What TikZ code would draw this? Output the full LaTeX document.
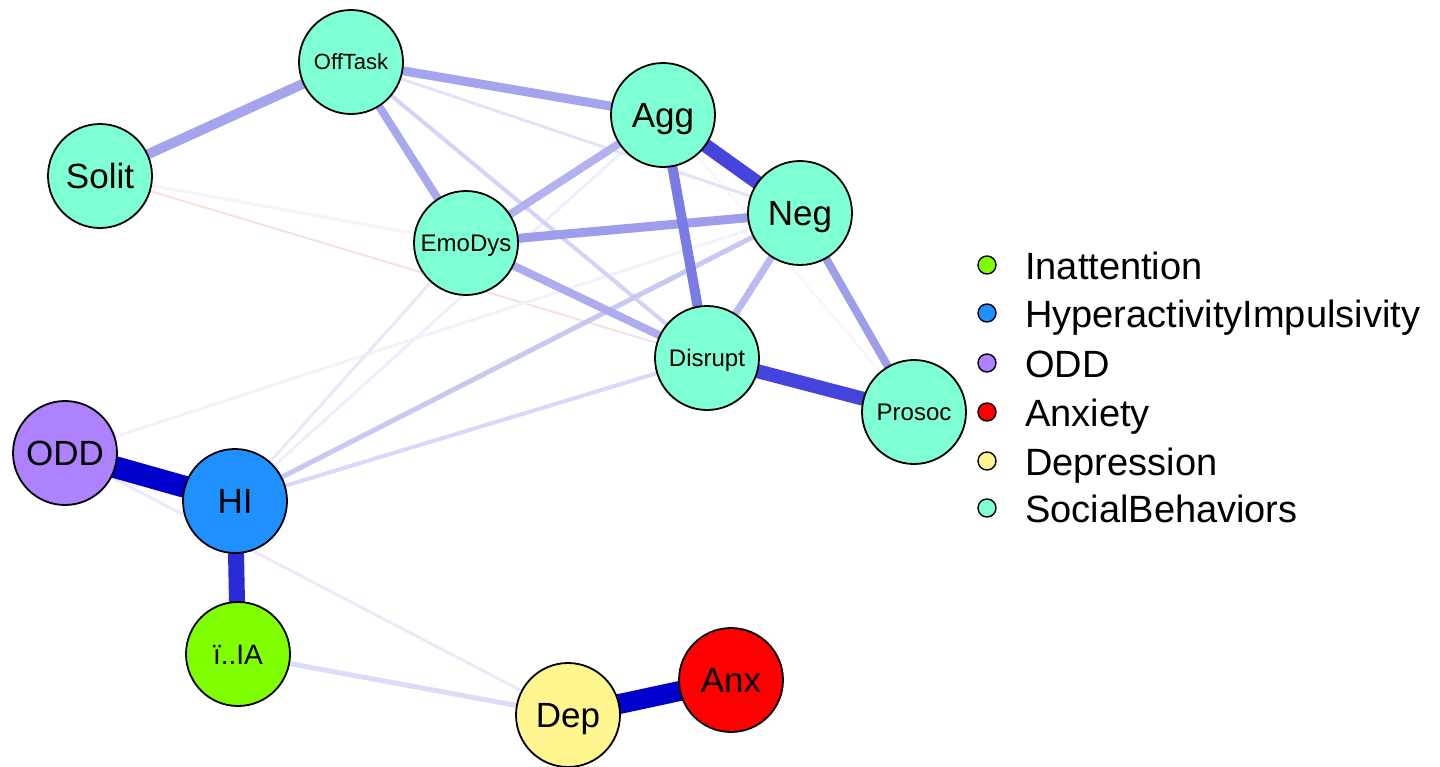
\documentclass[tikz,border=0pt]{standalone}
\usepackage{fontspec}
\setmainfont{Liberation Sans}
\usetikzlibrary{backgrounds}

\definecolor{social}{HTML}{7FFFD4}
\definecolor{oddc}{HTML}{AE82FF}
\definecolor{hic}{HTML}{1E90FF}
\definecolor{iac}{HTML}{7FFF00}
\definecolor{depc}{HTML}{FFF68F}
\definecolor{anxc}{HTML}{FF0000}

\tikzset{
  var/.style={circle, draw=black, line width=1.8pt, minimum size=104pt, inner sep=0pt, text depth=0pt},
  lblbig/.style={font=\fontsize{35}{35}\selectfont, text height=25pt},
  lblmid/.style={font=\fontsize{28}{28}\selectfont, text height=20pt},
  lblsmall/.style={font=\fontsize{24}{24}\selectfont, text height=17pt},
  lbltiny/.style={font=\fontsize{22}{22}\selectfont, text height=15.8pt},
  edge/.style={line cap=butt},
  key/.style={circle, draw=black, line width=1.4pt, minimum size=18pt, inner sep=0pt},
  keytext/.style={anchor=base west, font=\fontsize{38}{38}\selectfont, inner sep=0pt},
}

\begin{document}
\begin{tikzpicture}[x=1pt, y=-1pt]
\useasboundingbox (0,0) rectangle (1440,766);

% variables
\node[var, fill=social, lbltiny]  (OffTask) at (351,62)  {OffTask};
\node[var, fill=social, lblbig]   (Solit)   at (100,176) {Solit};
\node[var, fill=social, lblbig]   (Agg)     at (663,115) {Agg};
\node[var, fill=social, lblbig]   (Neg)     at (800,213) {Neg};
\node[var, fill=social, lblsmall] (EmoDys)  at (466,243) {EmoDys};
\node[var, fill=social, lblsmall] (Disrupt) at (707,358) {Disrupt};
\node[var, fill=social, lblsmall] (Prosoc)  at (914,412) {Prosoc};
\node[var, fill=oddc, lblbig]     (ODD)     at (65,453)  {ODD};
\node[var, fill=hic, lblbig]      (HI)      at (235,501) {HI};
\node[var, fill=iac, lblmid]      (IA)      at (238,654) {ï..IA};
\node[var, fill=depc, lblbig]     (Dep)     at (568,715) {Dep};
\node[var, fill=anxc, lblbig]     (Anx)     at (731,680) {Anx};

% partial correlations, weakest first
\begin{pgfonlayer}{background}
\draw[edge, line width=2pt, color={rgb,255:red,247;green,224;blue,224}] (Solit.center) -- (Disrupt.center);
\draw[edge, line width=2pt, color={rgb,255:red,245;green,245;blue,253}] (Agg.center) -- (Prosoc.center);
\draw[edge, line width=3pt, color={rgb,255:red,243;green,243;blue,253}] (Solit.center) -- (EmoDys.center);
\draw[edge, line width=3pt, color={rgb,255:red,242;green,242;blue,253}] (ODD.center) -- (Neg.center);
\draw[edge, line width=3pt, color={rgb,255:red,234;green,234;blue,251}] (ODD.center) -- (Dep.center);
\draw[edge, line width=3pt, color={rgb,255:red,238;green,238;blue,252}] (HI.center) -- (Agg.center);
\draw[edge, line width=3pt, color={rgb,255:red,232;green,232;blue,250}] (HI.center) -- (EmoDys.center);
\draw[edge, line width=3pt, color={rgb,255:red,226;green,226;blue,249}] (OffTask.center) -- (Neg.center);
\draw[edge, line width=4pt, color={rgb,255:red,216;green,216;blue,248}] (HI.center) -- (Disrupt.center);
\draw[edge, line width=5pt, color={rgb,255:red,220;green,220;blue,248}] (IA.center) -- (Dep.center);
\draw[edge, line width=4pt, color={rgb,255:red,211;green,211;blue,247}] (OffTask.center) -- (Disrupt.center);
\draw[edge, line width=5pt, color={rgb,255:red,200;green,200;blue,244}] (HI.center) -- (Neg.center);
\draw[edge, line width=7pt, color={rgb,255:red,186;green,186;blue,242}] (Neg.center) -- (Disrupt.center);
\draw[edge, line width=8pt, color={rgb,255:red,178;green,178;blue,240}] (EmoDys.center) -- (Agg.center);
\draw[edge, line width=8pt, color={rgb,255:red,172;green,172;blue,238}] (EmoDys.center) -- (Disrupt.center);
\draw[edge, line width=8pt, color={rgb,255:red,168;green,168;blue,238}] (OffTask.center) -- (EmoDys.center);
\draw[edge, line width=9pt, color={rgb,255:red,165;green,165;blue,238}] (OffTask.center) -- (Agg.center);
\draw[edge, line width=10pt, color={rgb,255:red,165;green,165;blue,238}] (OffTask.center) -- (Solit.center);
\draw[edge, line width=8pt, color={rgb,255:red,158;green,158;blue,235}] (Neg.center) -- (Prosoc.center);
\draw[edge, line width=9pt, color={rgb,255:red,157;green,157;blue,235}] (EmoDys.center) -- (Neg.center);
\draw[edge, line width=10pt, color={rgb,255:red,123;green,123;blue,229}] (Agg.center) -- (Disrupt.center);
\draw[edge, line width=14pt, color={rgb,255:red,69;green,69;blue,221}] (Agg.center) -- (Neg.center);
\draw[edge, line width=14pt, color={rgb,255:red,69;green,69;blue,221}] (Disrupt.center) -- (Prosoc.center);
\draw[edge, line width=16pt, color={rgb,255:red,42;green,42;blue,216}] (HI.center) -- (IA.center);
\draw[edge, line width=20pt, color={rgb,255:red,0;green,0;blue,204}] (Dep.center) -- (Anx.center);
\draw[edge, line width=22pt, color={rgb,255:red,0;green,0;blue,204}] (ODD.center) -- (HI.center);
\end{pgfonlayer}

% legend
\node[key, fill=iac]    (k1) at (987,265) {};
\node[key, fill=hic]    (k2) at (987,313) {};
\node[key, fill=oddc]   (k3) at (987,363) {};
\node[key, fill=anxc]   (k4) at (987,412) {};
\node[key, fill=depc]   (k5) at (987,461) {};
\node[key, fill=social] (k6) at (987,508) {};
\node[keytext] (t1) at (1025,279) {Inattention};
\node[keytext] (t2) at (1025,327) {HyperactivityImpulsivity};
\node[keytext] (t3) at (1025,377) {ODD};
\node[keytext] (t4) at (1025,426) {Anxiety};
\node[keytext] (t5) at (1025,475) {Depression};
\node[keytext] (t6) at (1025,522) {SocialBehaviors};
\end{tikzpicture}
\end{document}
